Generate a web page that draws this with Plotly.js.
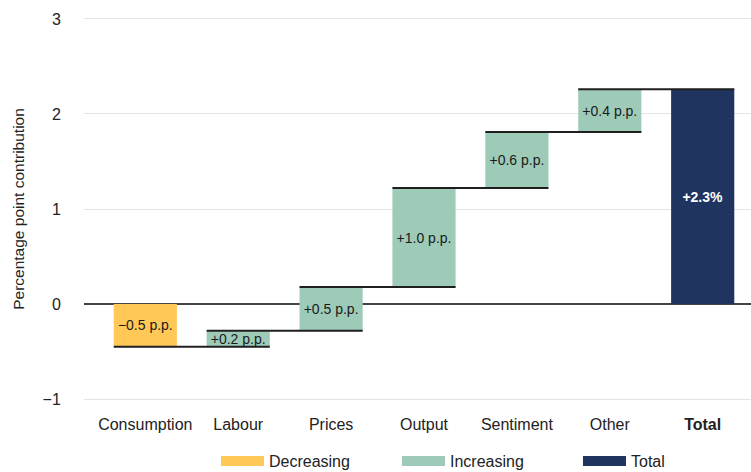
<!DOCTYPE html>
<html><head><meta charset="utf-8">
<script src="https://cdn.plot.ly/plotly-3.0.1.min.js"></script>
<style>html,body{margin:0;padding:0;background:#fff}#chart{width:751px;height:472px}</style>
</head><body><div id="chart"></div>
<script>
const categories = ["Consumption", "Labour", "Prices", "Output", "Sentiment", "Other", "Total"];
const contributions = [-0.45, 0.17, 0.46, 1.04, 0.59, 0.45];
const barLabels = ["−0.5 p.p.", "+0.2 p.p.", "+0.5 p.p.", "+1.0 p.p.", "+0.6 p.p.", "+0.4 p.p.", "+2.3%"];
const legendNames = ["Decreasing", "Increasing", "Total"];
const yTicks = [-1, 0, 1, 2, 3];

const colors = { Decreasing: "#FFC857", Increasing: "#9ECAB8", Total: "#1F3560" };
const BAR_W = 0.68;

// cumulative positions
const starts = [], ends = [];
let run = 0;
contributions.forEach(v => { starts.push(run); run += v; ends.push(run); });
const totalVal = run;

const dec = { x: [], y: [], base: [], text: [] };
const inc = { x: [], y: [], base: [], text: [] };
contributions.forEach((v, i) => {
  const t = v < 0 ? dec : inc;
  t.x.push(i); t.y.push(v); t.base.push(starts[i]); t.text.push(barLabels[i]);
});

const barCommon = {
  type: 'bar', width: BAR_W, showlegend: false, hoverinfo: 'skip',
  textposition: 'inside', insidetextanchor: 'middle', constraintext: 'none', textangle: 0
};

const traces = [];
traces.push(Object.assign({}, barCommon, {
  x: dec.x, y: dec.y, base: dec.base, text: dec.text,
  marker: { color: colors.Decreasing, line: { width: 0 } },
  insidetextfont: { color: '#1a1a1a', size: 14, family: 'Liberation Sans, Arial, sans-serif' }
}));
traces.push(Object.assign({}, barCommon, {
  x: inc.x, y: inc.y, base: inc.base, text: inc.text,
  marker: { color: colors.Increasing, line: { width: 0 } },
  insidetextfont: { color: '#1a1a1a', size: 14, family: 'Liberation Sans, Arial, sans-serif' }
}));
const totalIdx = categories.length - 1;
traces.push(Object.assign({}, barCommon, {
  x: [totalIdx], y: [totalVal], base: [0], text: ['<b>' + barLabels[totalIdx] + '</b>'],
  marker: { color: colors.Total, line: { width: 0 } },
  insidetextfont: { color: '#ffffff', size: 14, family: 'Liberation Sans, Arial, sans-serif' }
}));

// connectors: from left edge of bar i to right edge of bar i+1 at end level of bar i
const cx = [], cy = [];
ends.forEach((e, i) => {
  cx.push(i - BAR_W / 2, i + 1 + BAR_W / 2, null);
  cy.push(e, e, null);
});
traces.push({
  type: 'scatter', mode: 'lines', x: cx, y: cy, showlegend: false, hoverinfo: 'skip',
  line: { color: '#1f1f1f', width: 2 }
});

// legend entries
legendNames.forEach(n => {
  traces.push({
    type: 'scatter', mode: 'lines', x: [null], y: [null], name: n,
    line: { color: colors[n], width: 14 }
  });
});

const tickText = categories.map((c, i) => i === totalIdx ? '<b>' + c + '</b>' : c);

const layout = {
  width: 751, height: 472,
  margin: { l: 84, r: 0, t: 17, b: 71 },
  font: { family: 'Liberation Sans, Arial, sans-serif', color: '#222', size: 16 },
  paper_bgcolor: '#ffffff', plot_bgcolor: '#ffffff',
  barmode: 'overlay',
  xaxis: {
    range: [-0.66, 6.52], tickmode: 'array',
    tickvals: categories.map((c, i) => i), ticktext: tickText,
    showgrid: false, zeroline: false, showline: false,
    ticks: 'outside', ticklen: 9, tickcolor: 'rgba(0,0,0,0)',
    tickfont: { size: 16, color: '#222' }, fixedrange: true
  },
  yaxis: {
    range: [-1.02, 3.02], tickmode: 'array', tickvals: yTicks,
    showgrid: true, gridcolor: '#e4e4e4', gridwidth: 1,
    zeroline: true, zerolinecolor: '#444', zerolinewidth: 2,
    showline: false,
    ticks: 'outside', ticklen: 19, tickcolor: 'rgba(0,0,0,0)',
    tickfont: { size: 16, color: '#222' },
    title: { text: 'Percentage point contribution', font: { size: 15.5, color: '#222' }, standoff: 14 },
    fixedrange: true
  },
  showlegend: true,
  legend: {
    orientation: 'h', xref: 'container', yref: 'container',
    x: 0.2876, xanchor: 'left', y: 0.0233, yanchor: 'middle',
    font: { size: 16, color: '#222' }, itemwidth: 43, entrywidth: 123,
    traceorder: 'normal', bgcolor: 'rgba(0,0,0,0)'
  }
};

Plotly.newPlot('chart', traces, layout, { displayModeBar: false, staticPlot: true });
</script>
</body></html>
